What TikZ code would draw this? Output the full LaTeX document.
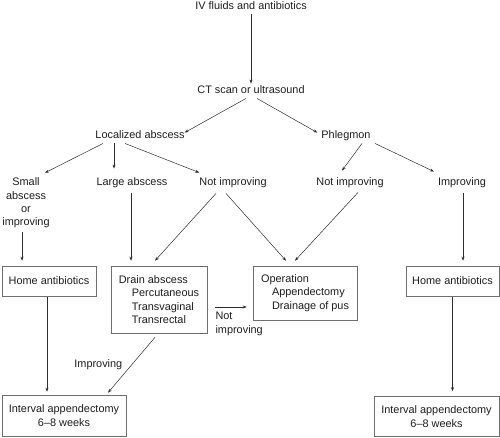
\documentclass[tikz,border=0pt]{standalone}
\usepackage{fontspec}
\setmainfont{Liberation Sans}
\usepackage{xcolor}
\usepackage{tikz}
\usetikzlibrary{arrows.meta,positioning,calc}
\definecolor{FlowInk} {RGB}{ 30, 30, 30}
\definecolor{FlowLine}{RGB}{ 45, 45, 45}
\definecolor{FlowEdge}{RGB}{110,110,110}

\begin{document}
\begin{tikzpicture}[x=1pt,y=-1pt,on grid,
      txt/.style={inner sep=2pt,font=\fontsize{10.9}{13.3}\selectfont,text=FlowInk,align=center},
      lbl/.style={txt,text height=8pt,text depth=2.5pt},
      box/.style={txt,rectangle,draw=FlowEdge,line width=0.6pt,fill=white},
      arr/.style={-{Stealth[length=4pt,width=3pt]},line width=0.5pt,FlowLine}]
    \useasboundingbox (0,0) rectangle (500,437);
    \node[lbl] at (251,7) (iv) {IV fluids and antibiotics};
    \node[lbl,below=84pt of iv] (ct) {CT scan or ultrasound};
    \node[lbl,below left=45pt and 111pt of ct] (loc) {Localized abscess};
    \node[lbl,below right=45pt and 95pt of ct] (phl) {Phlegmon};
    \node[txt,below left=67pt and 114pt of loc] (small) {Small\\abscess\\or\\improving};
    \node[lbl,below left=47pt and 8pt of loc] (large) {Large abscess};
    \node[lbl,below right=47pt and 93pt of loc] (notL) {Not improving};
    \node[lbl,below right=47pt and 4pt of phl] (notR) {Not improving};
    \node[lbl,below right=47pt and 116pt of phl] (impR) {Improving};
    \node[box,minimum width=94pt,minimum height=30pt,below left=98pt and 83pt of large] (homeL) {Home antibiotics};
    \node[box,minimum width=96pt,minimum height=67pt,align=left,below right=116.5pt and 27pt of large] (drain)
         {Drain abscess\\\hspace*{13pt}Percutaneous\\\hspace*{13pt}Transvaginal\\\hspace*{13pt}Transrectal};
    \node[box,minimum width=104pt,minimum height=54pt,align=left,below right=110pt and 72pt of notL] (oper)
         {Operation\\\hspace*{11pt}Appendectomy\\\hspace*{11pt}Drainage of pus};
    \node[box,minimum width=93pt,minimum height=30pt,below left=98pt and 9.5pt of impR] (homeR) {Home antibiotics};
    \node[box,minimum width=124pt,minimum height=41pt,below right=134.5pt and 15pt of homeL] (intL)
         {Interval appendectomy\\6--8 weeks};
    \node[box,minimum width=125pt,minimum height=40pt,below left=135.5pt and 16pt of homeR] (intR)
         {Interval appendectomy\\6--8 weeks};
    \draw[arr] (iv) -- (ct);
    \draw[arr] ($(ct.south)+(-5,0)$) -- ($(loc.north east)+(-2,4)$);
    \draw[arr] ($(ct.south)+(6,0)$) -- ($(phl.north west)+(-2,4)$);
    \draw[arr] ($(loc.south)+(-37,0)$) -- ($(small.north)+(19,-3)$);
    \draw[arr] ($(loc.south)+(-26,0)$) -- ($(large.north)+(-18,-7)$);
    \draw[arr] ($(loc.south)+(-15,0)$) -- ($(notL.north west)+(2,-3)$);
    \draw[arr] ($(phl.south)+(16,0)$) -- ($(notR.north)+(-8,-5)$);
    \draw[arr] ($(phl.south)+(29,0)$) -- ($(impR.north west)+(-2,-4)$);
    \draw[arr] ($(small.south)+(-4,2)$) -- ($(homeL.north)+(-27,-5)$);
    \draw[arr] ($(large.south)+(-1,3)$) -- ($(drain.north)+(-28,-5)$);
    \draw[arr] ($(notL.south)+(-17,3)$) -- ($(drain.north)+(-4,-5)$);
    \draw[arr] ($(notL.south)+(-7,3)$) -- ($(oper.north)+(-19,-5)$);
    \draw[arr] ($(notR.south)+(8,2)$) -- ($(oper.north)+(-10,-5)$);
    \draw[arr] ($(impR.south)+(1,3)$) -- ($(homeR.north)+(10.5,-5)$);
    \draw[arr] ($(drain.east)+(8,7.5)$) -- ($(oper.west)+(-6,14)$)
         node[txt,at start,anchor=north west,align=left,inner sep=0pt,yshift=-5pt] (notlab) {Not\\improving};
    \draw[arr] ($(homeL.south)+(-2,1)$) -- ($(intL.north)+(-17,-3)$);
    \draw[arr] ($(drain.south)+(-4,4)$) -- ($(intL.north)+(44,-2)$)
         node[lbl,midway,anchor=east,xshift=-7pt] (implab) {Improving};
    \draw[arr] ($(homeR.south)+(0,1)$) -- ($(intR.north)+(16,-5)$);
  \end{tikzpicture}
\end{document}
